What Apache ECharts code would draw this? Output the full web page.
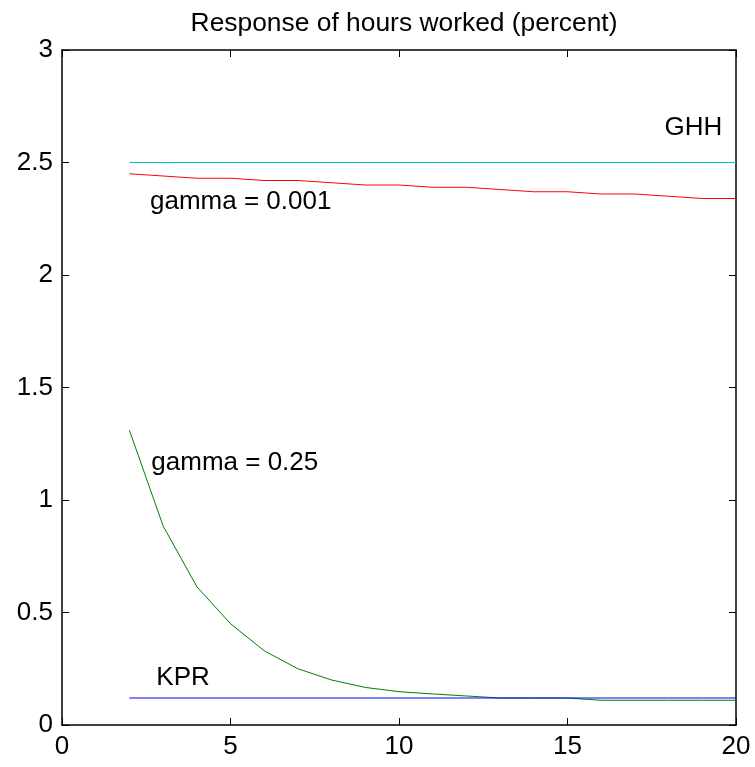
<!DOCTYPE html>
<html>
<head>
<meta charset="utf-8">
<script src="https://cdn.jsdelivr.net/npm/echarts@6/dist/echarts.min.js"></script>
<style>
html,body{margin:0;padding:0;background:#fff;}
#chart{width:755px;height:767px;}
</style>
</head>
<body>
<div id="chart"></div>
<script>
var periods = [2,3,4,5,6,7,8,9,10,11,12,13,14,15,16,17,18,19,20];
var ghh = [2.5,2.5,2.5,2.5,2.5,2.5,2.5,2.5,2.5,2.5,2.5,2.5,2.5,2.5,2.5,2.5,2.5,2.5,2.5];
var gamma001 = [2.45,2.44,2.43,2.43,2.42,2.42,2.41,2.40,2.40,2.39,2.39,2.38,2.37,2.37,2.36,2.36,2.35,2.34,2.34];
var gamma025 = [1.31,0.885,0.615,0.45,0.33,0.25,0.2,0.167,0.148,0.138,0.129,0.12,0.12,0.12,0.11,0.11,0.11,0.11,0.11];
var kpr = [0.12,0.12,0.12,0.12,0.12,0.12,0.12,0.12,0.12,0.12,0.12,0.12,0.12,0.12,0.12,0.12,0.12,0.12,0.12];
var labelTexts = ['GHH','gamma = 0.001','gamma = 0.25','KPR'];
var labelX = [17.88,2.61,2.65,2.80];
var labelY = [2.653,2.325,1.164,0.211];
var xTicks = [0,5,10,15,20];
var yTicks = [0,0.5,1,1.5,2,2.5,3];

function pairs(ys){ return periods.map(function(p,i){ return [p, ys[i]]; }); }
var FONT = 'Liberation Sans, Arial, Helvetica, sans-serif';
var chart = echarts.init(document.getElementById('chart'), null, {renderer:'canvas'});

var axisLine = {show:true, onZero:false, lineStyle:{color:'#000', width:1.5}};
var axisTick = {show:true, inside:true, length:7, lineStyle:{color:'#000', width:1}};

chart.setOption({
  animation:false,
  backgroundColor:'#fff',
  title:{
    text:'Response of hours worked (percent)',
    left:399, top:6, textAlign:'center',
    textStyle:{fontFamily:FONT, fontSize:26.4, fontWeight:'normal', color:'#000'}
  },
  grid:{left:62, right:19, top:50, bottom:42, containLabel:false},
  xAxis:[{
    type:'value', min:xTicks[0], max:xTicks[xTicks.length-1], interval:5, position:'bottom',
    axisLine:axisLine, axisTick:axisTick, splitLine:{show:false},
    axisLabel:{show:true, margin:9, fontFamily:FONT, fontSize:26, color:'#000'}
  },{
    type:'value', min:xTicks[0], max:xTicks[xTicks.length-1], interval:5, position:'top',
    axisLine:axisLine, axisTick:axisTick, splitLine:{show:false}, axisLabel:{show:false}
  }],
  yAxis:[{
    type:'value', min:yTicks[0], max:yTicks[yTicks.length-1], interval:0.5, position:'left',
    axisLine:axisLine, axisTick:axisTick, splitLine:{show:false},
    axisLabel:{show:true, margin:9, fontFamily:FONT, fontSize:26, color:'#000'}
  },{
    type:'value', min:yTicks[0], max:yTicks[yTicks.length-1], interval:0.5, position:'right',
    axisLine:axisLine, axisTick:axisTick, splitLine:{show:false}, axisLabel:{show:false}
  }],
  series:[
    {type:'line', name:'GHH', data:pairs(ghh), symbol:'none', lineStyle:{color:'#00bfbf', width:1}, itemStyle:{color:'#00bfbf'}},
    {type:'line', name:'gamma = 0.001', data:pairs(gamma001), symbol:'none', lineStyle:{color:'#ff0000', width:1}, itemStyle:{color:'#ff0000'}},
    {type:'line', name:'gamma = 0.25', data:pairs(gamma025), symbol:'none', lineStyle:{color:'#008000', width:1}, itemStyle:{color:'#008000'}},
    {type:'line', name:'KPR', data:pairs(kpr), symbol:'none', lineStyle:{color:'#0000ff', width:1}, itemStyle:{color:'#0000ff'}}
  ]
});

var texts = labelTexts.map(function(t,i){
  var pt = chart.convertToPixel({xAxisIndex:0, yAxisIndex:0}, [labelX[i], labelY[i]]);
  return {type:'text', x:pt[0], y:pt[1], silent:true,
          style:{text:t, fill:'#000', font:'26px ' + FONT, textAlign:'left', textVerticalAlign:'middle'}};
});
chart.setOption({graphic:texts});
</script>
</body>
</html>
